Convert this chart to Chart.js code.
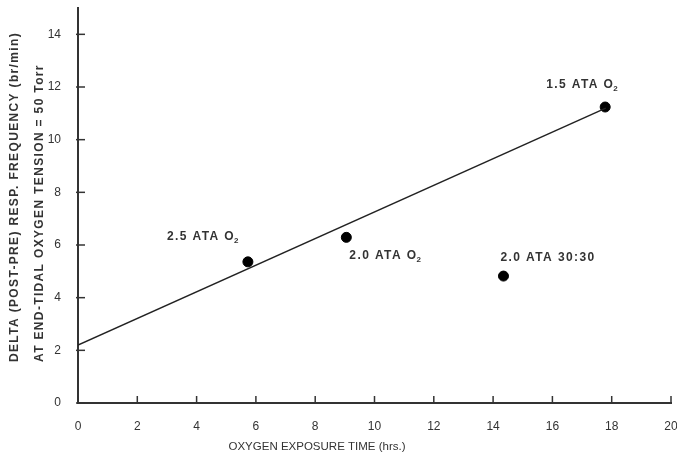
<!DOCTYPE html>
<html>
<head>
<meta charset="utf-8">
<script src="https://cdn.jsdelivr.net/npm/chart.js@4/dist/chart.umd.min.js"></script>
<style>
html,body{margin:0;padding:0;background:#fff;}
#wrap{width:677px;height:458px;position:relative;}
</style>
</head>
<body>
<div id="wrap"><canvas id="c" width="677" height="458"></canvas></div>
<script>
// Data
const exposureHours = [5.73, 9.05, 14.35, 17.78];
const deltaFrequency = [5.36, 6.29, 4.82, 11.24];
const pointLabels = ["2.5 ATA O|2", "2.0 ATA O|2", "2.0 ATA 30:30", "1.5 ATA O|2"];
const fitLineX = [0, 17.8];
const fitLineY = [2.2, 11.2];
const xTicks = [0, 2, 4, 6, 8, 10, 12, 14, 16, 18, 20];
const yTicks = [0, 2, 4, 6, 8, 10, 12, 14];
const xTitle = "OXYGEN EXPOSURE TIME (hrs.)";
const yTitleLines = ["DELTA (POST-PRE) RESP. FREQUENCY (br/min)", "AT END-TIDAL OXYGEN TENSION = 50 Torr"];

// label offsets (px) relative to each point (style, not data)
const labelOffsets = [[-81, -25], [3, 18], [-3, -18], [-59, -22]];

const FONT = "'Liberation Sans', Arial, sans-serif";
const TXT = '#333';

const pts = exposureHours.map((x, i) => ({x, y: deltaFrequency[i]}));
const linePts = fitLineX.map((x, i) => ({x, y: fitLineY[i]}));

const decor = {
  id: 'decor',
  afterDraw(chart) {
    const ctx = chart.ctx;
    const xs = chart.scales.x, ys = chart.scales.y;
    const area = chart.chartArea;
    ctx.save();
    // inside tick marks
    ctx.strokeStyle = '#333';
    ctx.lineWidth = 1.5;
    xTicks.forEach(v => {
      const px = xs.getPixelForValue(v);
      ctx.beginPath(); ctx.moveTo(px, area.bottom); ctx.lineTo(px, area.bottom - 7); ctx.stroke();
    });
    yTicks.forEach(v => {
      const py = ys.getPixelForValue(v);
      ctx.beginPath(); ctx.moveTo(area.left - 2, py); ctx.lineTo(area.left + 7, py); ctx.stroke();
    });
    // point labels
    ctx.fillStyle = TXT;
    ctx.textBaseline = 'middle';
    pointLabels.forEach((lab, i) => {
      const px = xs.getPixelForValue(exposureHours[i]) + labelOffsets[i][0];
      const py = ys.getPixelForValue(deltaFrequency[i]) + labelOffsets[i][1];
      const parts = lab.split('|');
      ctx.font = 'bold 12px ' + FONT;
      ctx.letterSpacing = '1.4px';
      ctx.textAlign = 'left';
      ctx.fillText(parts[0], px, py);
      if (parts[1]) {
        const w = ctx.measureText(parts[0]).width;
        ctx.font = 'bold 8px ' + FONT;
        ctx.letterSpacing = '0px';
        ctx.fillText(parts[1], px + w - 1, py + 4);
      }
    });
    ctx.letterSpacing = '0px';
    // x title
    ctx.font = '11.5px ' + FONT;
    ctx.textAlign = 'center';
    ctx.fillText(xTitle, 317, 447);
    // y title (rotated, two lines)
    ctx.font = 'bold 12px ' + FONT;
    ctx.letterSpacing = '1.35px';
    ctx.textAlign = 'left';
    [[15, yTitleLines[0]], [40, yTitleLines[1]]].forEach(([x, t]) => {
      ctx.save();
      ctx.translate(x, 362);
      ctx.rotate(-Math.PI / 2);
      ctx.fillText(t, 0, 0);
      ctx.restore();
    });
    ctx.restore();
  }
};

new Chart(document.getElementById('c'), {
  type: 'scatter',
  data: {
    datasets: [
      {
        label: 'fit',
        data: linePts,
        showLine: true,
        borderColor: '#222',
        borderWidth: 1.5,
        pointRadius: 0,
        fill: false
      },
      {
        label: 'points',
        data: pts,
        backgroundColor: '#000',
        borderColor: '#000',
        pointRadius: 5,
        showLine: false
      }
    ]
  },
  options: {
    responsive: false,
    animation: false,
    layout: {padding: {top: 8, right: 4, left: 0, bottom: 0}},
    plugins: {legend: {display: false}, tooltip: {enabled: false}},
    scales: {
      x: {
        type: 'linear',
        min: 0, max: 20,
        afterFit(s) { s.height = 55; s.paddingLeft = 0; s.paddingRight = 0; },
        afterBuildTicks(s) { s.ticks = xTicks.map(v => ({value: v})); },
        grid: {display: false},
        border: {display: true, color: '#333', width: 2},
        ticks: {color: TXT, font: {family: FONT, size: 12}, padding: 8, maxRotation: 0, autoSkip: false}
      },
      y: {
        type: 'linear',
        min: 0, max: 15,
        afterFit(s) { s.width = 78; s.paddingTop = 0; s.paddingBottom = 0; },
        afterBuildTicks(s) { s.ticks = yTicks.map(v => ({value: v})); },
        grid: {display: false},
        border: {display: true, color: '#333', width: 2},
        ticks: {color: TXT, font: {family: FONT, size: 12}, padding: 9, autoSkip: false}
      }
    }
  },
  plugins: [decor]
});
</script>
</body>
</html>
